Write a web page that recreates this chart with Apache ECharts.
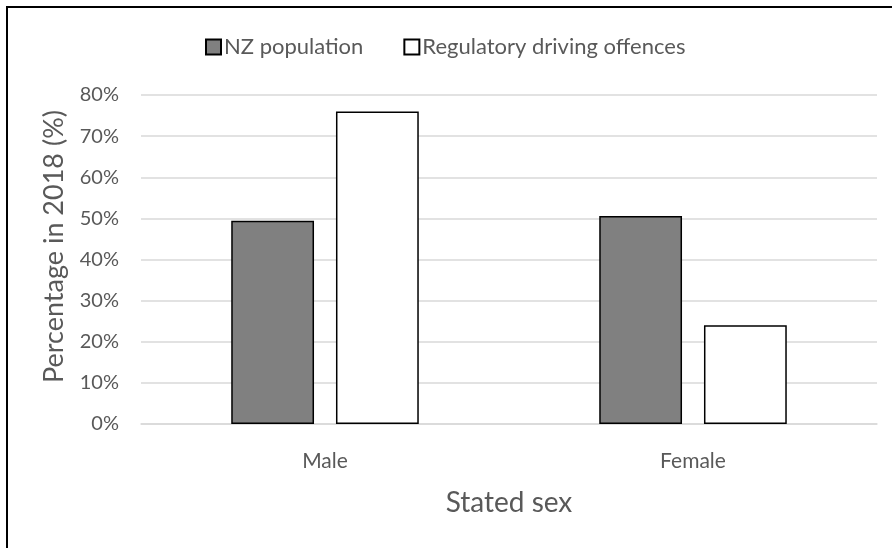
<!DOCTYPE html>
<html>
<head>
<meta charset="utf-8">
<script src="https://cdn.jsdelivr.net/npm/echarts@6/dist/echarts.min.js"></script>
<style>
  html, body { margin: 0; padding: 0; background: #fff; }
  #chart { width: 892px; height: 548px; }
</style>
</head>
<body>
<div id="chart"></div>
<script>
// Share of each stated sex, 2018
const categories = ['Male', 'Female'];
const seriesNames = ['NZ population', 'Regulatory driving offences'];
const nzPopulation = [49.4, 50.6];
const regulatoryOffences = [76.0, 24.0];
const yTicks = [0, 10, 20, 30, 40, 50, 60, 70, 80];

const textColor = '#595959';
const fontFamily = 'Lato, "Open Sans", sans-serif';

const chart = echarts.init(document.getElementById('chart'));
chart.setOption({
  animation: false,
  backgroundColor: '#fff',
  textStyle: { fontFamily: fontFamily, color: textColor },
  graphic: [{
    type: 'rect',
    shape: { x: 7, y: 7, width: 2000, height: 2000 },
    style: { fill: 'none', stroke: '#000', lineWidth: 2 },
    silent: true
  }],
  legend: {
    left: 200,
    top: 31,
    icon: 'rect',
    itemWidth: 15,
    itemHeight: 15,
    itemGap: 40,
    textStyle: { fontSize: 22, color: textColor, fontFamily: fontFamily, padding: [0, 0, 0, -2] },
    data: seriesNames
  },
  grid: { left: 141, right: 15, top: 95, bottom: 124, containLabel: false },
  xAxis: {
    type: 'category',
    data: categories,
    axisLine: { lineStyle: { color: '#d9d9d9', width: 1.5 } },
    axisTick: { show: false },
    axisLabel: { fontSize: 21, color: textColor, margin: 27 },
    name: 'Stated sex',
    nameLocation: 'middle',
    nameGap: 65,
    nameTextStyle: { fontSize: 28, color: textColor }
  },
  yAxis: {
    type: 'value',
    min: yTicks[0],
    max: yTicks[yTicks.length - 1],
    interval: 10,
    axisLine: { show: false },
    axisTick: { show: false },
    axisLabel: { fontSize: 20, color: textColor, margin: 22, formatter: v => v + '%' },
    splitLine: { lineStyle: { color: '#d9d9d9', width: 1.5 } },
    name: 'Percentage in 2018 (%)',
    nameLocation: 'middle',
    nameGap: 73,
    nameRotate: 90,
    nameTextStyle: { fontSize: 27, color: textColor, padding: [0, 0, 0, 26] }
  },
  series: [
    {
      name: seriesNames[0],
      type: 'bar',
      data: nzPopulation,
      barWidth: '22.5%',
      barGap: '26.5%',
      itemStyle: { color: '#808080', borderColor: '#000', borderWidth: 1.5 }
    },
    {
      name: seriesNames[1],
      type: 'bar',
      data: regulatoryOffences,
      barWidth: '22.5%',
      itemStyle: { color: '#ffffff', borderColor: '#000', borderWidth: 1.5 }
    }
  ]
});
</script>
</body>
</html>
